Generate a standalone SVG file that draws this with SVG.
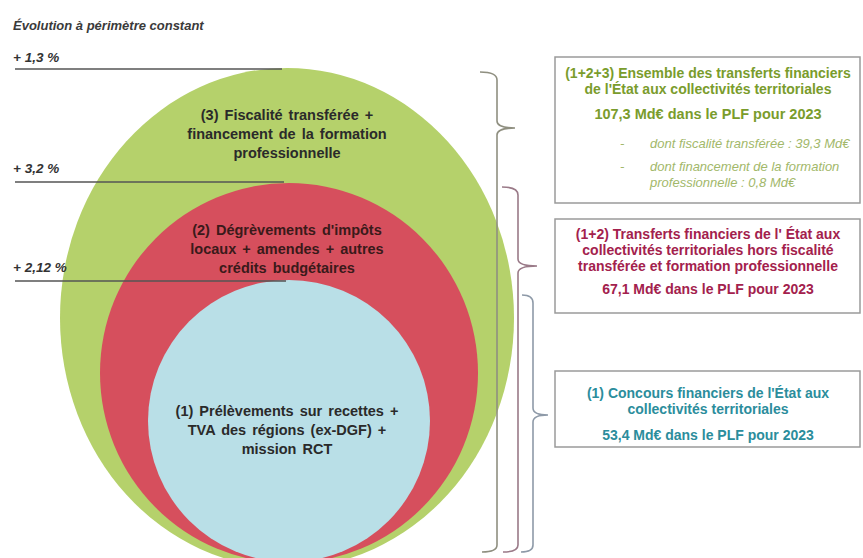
<svg xmlns="http://www.w3.org/2000/svg" width="863" height="558" viewBox="0 0 863 558">
<style>
text{font-family:"Liberation Sans",Arial,sans-serif;}
.lbl{font-size:13.5px;font-weight:bold;font-style:italic;fill:#333;}
.ell{font-size:14.5px;font-weight:bold;fill:#2a2a2a;text-anchor:middle;word-spacing:2px;}
.ellr{font-size:14.5px;font-weight:bold;fill:#3a1a1a;text-anchor:middle;word-spacing:2px;}
.lvl{stroke:#555;stroke-width:1.6;fill:none;}
.box{fill:#fff;stroke:#9a9a9a;stroke-width:1.5;}
.bt{font-size:14px;font-weight:bold;text-anchor:middle;}
.g{fill:#7a9c2c;}
.r{fill:#a3214d;}
.b{fill:#2b8d9c;}
.gi{fill:#a2b86a;font-size:13px;font-style:italic;}
.br{fill:none;stroke-width:1.6;}
</style>
<text x="13" y="30" class="lbl" style="font-size:13px;fill:#3a3a3a">Évolution à périmètre constant</text>

<g id="ring3">
<ellipse cx="287" cy="318" rx="227" ry="250" fill="#b5d16b"/>
</g>
<g id="ring2">
<ellipse cx="289" cy="373" rx="189" ry="190" fill="#d64f5d"/>
</g>
<g id="ring1">
<ellipse cx="289" cy="421" rx="141" ry="141" fill="#b9dfe7"/>
</g>

<g id="levels">
<text x="13" y="62" class="lbl">+ 1,3 %</text>
<line x1="15" y1="69" x2="282" y2="69" class="lvl"/>
<text x="13" y="173" class="lbl">+ 3,2 %</text>
<line x1="15" y1="182" x2="284" y2="182" class="lvl"/>
<text x="13" y="272" class="lbl">+ 2,12 %</text>
<line x1="15" y1="281" x2="286" y2="281" class="lvl"/>
</g>

<g id="ring3-label">
<text class="ell" x="287" y="120">(3) Fiscalité transférée +</text>
<text class="ell" x="287" y="139">financement de la formation</text>
<text class="ell" x="287" y="158">professionnelle</text>
</g>
<g id="ring2-label">
<text class="ellr" x="287" y="235">(2) Dégrèvements d'impôts</text>
<text class="ellr" x="287" y="254">locaux + amendes + autres</text>
<text class="ellr" x="287" y="273">crédits budgétaires</text>
</g>
<g id="ring1-label">
<text class="ell" x="287" y="416">(1) Prélèvements sur recettes +</text>
<text class="ell" x="287" y="435">TVA des régions (ex-DGF) +</text>
<text class="ell" x="287" y="454">mission RCT</text>
</g>

<g id="connectors">
<path class="br" stroke="#8f8f80" d="M480,72 Q497,72 497,80 L497,121 Q497,128 515,128 Q497,128 497,135 L497,545 Q497,552 482,552"/>
<path class="br" stroke="#9a7a88" d="M502,187 Q518,187 518,195 L518,259 Q518,266 537,266 Q518,266 518,273 L518,545 Q518,552 503,552"/>
<path class="br" stroke="#8e9aa8" d="M522,295 Q533,295 533,303 L533,408 Q533,415 548,415 Q533,415 533,422 L533,545 Q533,552 521,552"/>
</g>

<g id="box123">
<rect class="box" x="555" y="57" width="305" height="146"/>
<text class="bt g" x="708" y="78">(1+2+3) Ensemble des transferts financiers</text>
<text class="bt g" x="708" y="94">de l'État aux collectivités territoriales</text>
<text class="bt g" x="708" y="119" style="font-size:14.5px">107,3 Md€ dans le PLF pour 2023</text>
<text class="gi" x="620" y="148">-</text>
<text class="gi" x="650" y="148">dont fiscalité transférée : 39,3 Md€</text>
<text class="gi" x="620" y="171">-</text>
<text class="gi" x="650" y="171">dont financement de la formation</text>
<text class="gi" x="650" y="187">professionnelle : 0,8 Md€</text>
</g>

<g id="box12">
<rect class="box" x="555" y="219" width="305" height="94"/>
<text class="bt r" x="708" y="239">(1+2) Transferts financiers de l' État aux</text>
<text class="bt r" x="708" y="255">collectivités territoriales hors fiscalité</text>
<text class="bt r" x="708" y="271">transférée et formation professionnelle</text>
<text class="bt r" x="708" y="294">67,1 Md€ dans le PLF pour 2023</text>
</g>

<g id="box1">
<rect class="box" x="555" y="371" width="305" height="76"/>
<text class="bt b" x="708" y="398">(1) Concours financiers de l'État aux</text>
<text class="bt b" x="708" y="414">collectivités territoriales</text>
<text class="bt b" x="708" y="440">53,4 Md€ dans le PLF pour 2023</text>
</g>
</svg>
